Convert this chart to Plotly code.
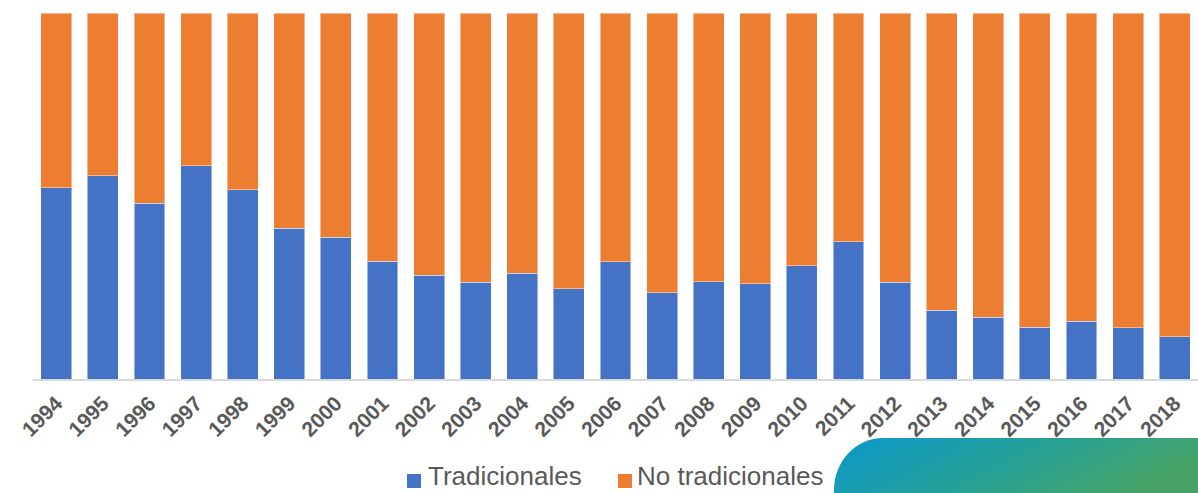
import base64
import plotly.graph_objects as go

years = [str(y) for y in range(1994, 2019)]
tradicionales = [52.3, 55.5, 48.0, 58.3, 51.7, 41.2, 38.7, 32.2, 28.3, 26.5, 28.9, 24.7, 32.0,
                 23.6, 26.6, 26.0, 30.9, 37.5, 26.4, 18.8, 16.9, 14.2, 15.8, 14.0, 11.6]
no_tradicionales = [47.7, 44.5, 52.0, 41.7, 48.3, 58.8, 61.3, 67.8, 71.7, 73.5, 71.1, 75.3, 68.0,
                    76.4, 73.4, 74.0, 69.1, 62.5, 73.6, 81.2, 83.1, 85.8, 84.2, 86.0, 88.4]
series_names = ["Tradicionales", "No tradicionales"]

BLUE = "#4472c4"
ORANGE = "#ed7d31"
TXT = "#595959"
W, H = 1198, 493
L, R, T, B = 33, 0, 13, 114
PW, PH = W - L - R, H - T - B

fig = go.Figure()
fig.add_trace(go.Bar(x=years, y=tradicionales, name=series_names[0],
                     marker=dict(color=BLUE, line=dict(color="rgba(255,255,255,0.45)", width=1))))
fig.add_trace(go.Bar(x=years, y=no_tradicionales, name=series_names[1],
                     marker=dict(color=ORANGE, line=dict(color="rgba(255,255,255,0.45)", width=1))))

svg = """<svg xmlns='http://www.w3.org/2000/svg' width='400' height='60' viewBox='0 0 400 60'>
<defs><linearGradient id='g' x1='0' y1='0' x2='1' y2='0.3'>
<stop offset='0' stop-color='#0a98cb'/><stop offset='0.5' stop-color='#24a09a'/><stop offset='1' stop-color='#47a466'/>
</linearGradient></defs>
<path d='M0,60 L0,52 A52,52 0 0 1 52,0 L400,0 L400,60 Z' fill='url(#g)'/></svg>"""
src = "data:image/svg+xml;base64," + base64.b64encode(svg.encode()).decode()


def px_x(x):
    return (x - L) / PW


def px_y(y):
    return (H - B - y) / PH


shapes = []
annotations = []
legend_items = [(407, 429, BLUE, series_names[0]), (618, 638, ORANGE, series_names[1])]
for sq_x, tx, col, name in legend_items:
    shapes.append(dict(type="rect", xref="paper", yref="paper",
                       x0=px_x(sq_x), x1=px_x(sq_x + 14), y0=px_y(488), y1=px_y(474),
                       fillcolor=col, line=dict(width=0)))
    annotations.append(dict(text=name, xref="paper", yref="paper", x=px_x(tx - 3), y=px_y(492.8),
                            xanchor="left", yanchor="bottom", showarrow=False,
                            font=dict(family="Liberation Sans, Arial", size=26, color=TXT)))

fig.update_layout(
    width=W, height=H,
    margin=dict(l=L, r=R, t=T, b=B),
    paper_bgcolor="white", plot_bgcolor="white",
    barmode="stack", bargap=0.335,
    showlegend=False,
    font=dict(family="Liberation Sans, Arial", color=TXT),
    xaxis=dict(showline=True, linecolor="#d9d9d9", linewidth=1.5, ticks="",
               tickangle=-45, tickfont=dict(size=21, color=TXT, weight=700),
               ticklabelstandoff=2, automargin=False,
               showgrid=False, zeroline=False),
    yaxis=dict(range=[0, 100], showticklabels=False, showgrid=False, zeroline=False,
               showline=False, ticks="", automargin=False),
    shapes=shapes,
    annotations=annotations,
    images=[dict(source=src, xref="paper", yref="paper", x=px_x(834), y=px_y(438),
                 sizex=(W - 834) / PW + 0.01, sizey=60 / PH, xanchor="left", yanchor="top",
                 sizing="stretch", layer="below")],
)

fig.write_html("out.html")
